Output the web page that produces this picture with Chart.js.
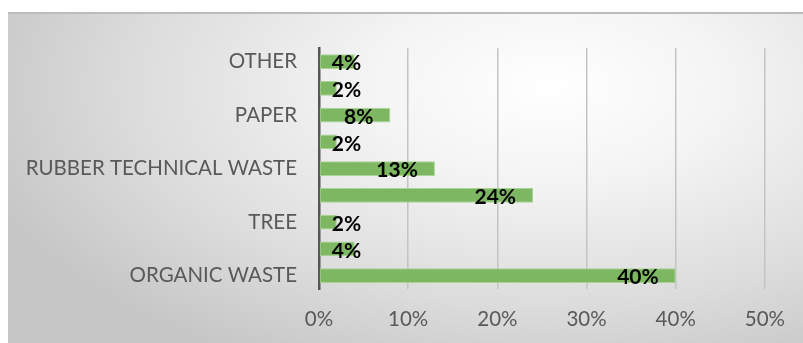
<!DOCTYPE html>
<html>
<head>
<meta charset="utf-8">
<script src="https://cdn.jsdelivr.net/npm/chart.js@4/dist/chart.umd.min.js"></script>
<style>
    html, body { margin: 0; padding: 0; background: #fff; }
    #wrap {
        position: absolute;
        left: 8px;
        top: 12px;
        width: 795px;
        height: 331px;
        border-top: 2px solid #bcbcbc;
        box-sizing: border-box;
        background: radial-gradient(ellipse 75% 95% at 68% 22%, #ffffff 0%, #f4f4f4 30%, #dcdcdc 70%, #c6c6c6 100%);
    }
    canvas { display: block; }
</style>
</head>
<body>
<div id="wrap"><canvas id="wasteChart" width="795" height="329"></canvas></div>
<script>
// waste composition, top row first
const categories = ['OTHER', '', 'PAPER', '', 'RUBBER TECHNICAL WASTE', '', 'TREE', '', 'ORGANIC WASTE'];
const shares = [4, 2, 8, 2, 13, 24, 2, 4, 40];
const xTicks = [0, 10, 20, 30, 40, 50];

const barColor = '#7db761';
const textGray = '#595959';

// Value labels sit inside the bar end, but never start before the axis
const valueLabels = {
    id: 'valueLabels',
    afterDatasetsDraw(chart) {
        const ctx = chart.ctx;
        const meta = chart.getDatasetMeta(0);
        ctx.save();
        ctx.font = 'bold 21px Lato';
        ctx.fillStyle = '#000';
        ctx.textBaseline = 'middle';
        ctx.textAlign = 'left';
        meta.data.forEach((bar, i) => {
            const text = shares[i] + '%';
            const w = ctx.measureText(text).width;
            let x = bar.x - 17 - w;
            if (x < bar.base + 12) {
                x = bar.base + 12;
            }
            ctx.fillText(text, x, bar.y + 2);
        });
        ctx.restore();
    }
};

new Chart(document.getElementById('wasteChart'), {
    type: 'bar',
    data: {
        labels: categories,
        datasets: [{
            data: shares,
            backgroundColor: barColor,
            borderColor: '#a9d393',
            borderWidth: 1,
            borderSkipped: false,
            barPercentage: 0.55,
            categoryPercentage: 1.0
        }]
    },
    options: {
        indexAxis: 'y',
        responsive: false,
        animation: false,
        layout: {
            padding: { top: 28, right: 37, left: 0, bottom: 0 }
        },
        plugins: {
            legend: { display: false },
            tooltip: { enabled: false }
        },
        scales: {
            x: {
                min: 0,
                max: 50,
                afterBuildTicks: scale => {
                    scale.ticks = xTicks.map(v => ({ value: v }));
                },
                afterFit: scale => {
                    scale.height = 54;
                },
                ticks: {
                    color: textGray,
                    font: { family: 'Lato', size: 20.5 },
                    padding: 18,
                    callback: value => value + '%'
                },
                grid: {
                    color: '#c4c4c4',
                    lineWidth: 1.5,
                    drawTicks: false
                },
                border: { display: false }
            },
            y: {
                afterFit: scale => {
                    scale.width = 311;
                },
                ticks: {
                    color: textGray,
                    font: { family: 'Lato', size: 20.5 },
                    padding: 22,
                    autoSkip: false
                },
                grid: { display: false, drawTicks: false },
                border: {
                    display: true,
                    color: '#555555',
                    width: 2.5
                }
            }
        }
    },
    plugins: [valueLabels]
});
</script>
</body>
</html>
